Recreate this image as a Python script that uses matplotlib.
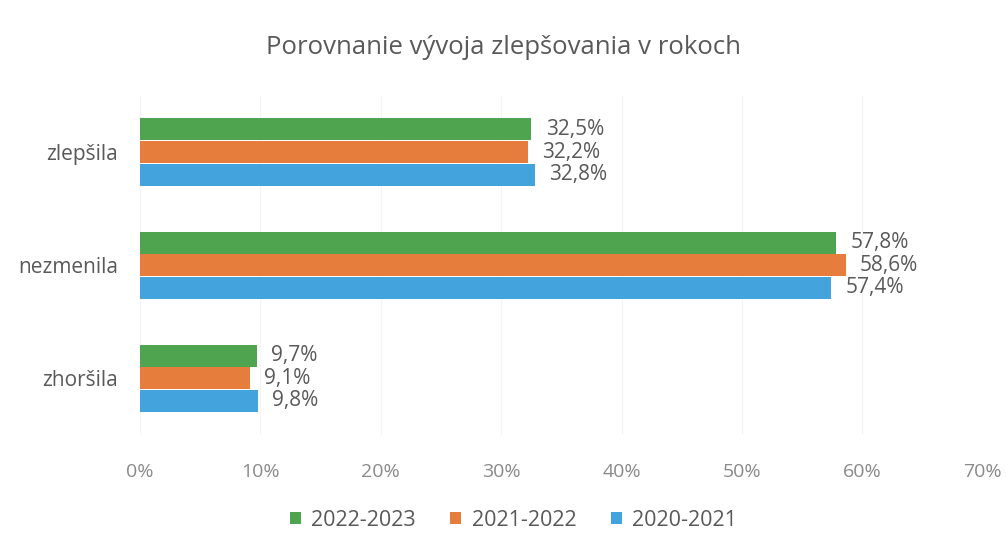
import numpy as np
import matplotlib.pyplot as plt

categories = ["zlepšila", "nezmenila", "zhoršila"]
series_names = ["2022-2023", "2021-2022", "2020-2021"]
v_2022_2023 = [32.5, 57.8, 9.7]
v_2021_2022 = [32.2, 58.6, 9.1]
v_2020_2021 = [32.8, 57.4, 9.8]
x_ticks = [0, 10, 20, 30, 40, 50, 60, 70]

colors = ["#4FA54F", "#E67D3C", "#43A3DC"]
text_col = "#595959"

plt.rcParams['font.family'] = ['Open Sans', 'DejaVu Sans']

fig = plt.figure(figsize=(10.07, 5.49), dpi=100)
ax = fig.add_axes([0.139, 0.208, 0.837, 0.618])

y = np.arange(len(categories))
h = 0.2
series = [v_2022_2023, v_2021_2022, v_2020_2021]
for i, (vals, name, c) in enumerate(zip(series, series_names, colors)):
    pos = y + (i - 1) * h
    ax.barh(pos, vals, height=h * 0.97, color=c, label=name)
    for p, v in zip(pos, vals):
        ax.text(v + 1.2, p, f"{v:.1f}%".replace(".", ","), va="center", ha="left",
                fontsize=15, color=text_col)

ax.set_xlim(0, 70)
ax.set_ylim(2.5, -0.5)
ax.set_yticks(y)
ax.set_yticklabels(categories, fontsize=15, color=text_col)
ax.set_xticks(x_ticks)
ax.set_xticklabels([f"{t}%" for t in x_ticks], fontsize=14, color="#8a8a8a")
ax.tick_params(axis="both", length=0)
ax.tick_params(axis="x", pad=20)
ax.tick_params(axis="y", pad=16)
ax.xaxis.grid(True, color="#f4f4f4", linewidth=0.8)
ax.set_axisbelow(True)
for s in ax.spines.values():
    s.set_visible(False)

fig.text(0.5, 0.914, "Porovnanie vývoja zlepšovania v rokoch", ha="center", va="center",
         fontsize=18.5, color=text_col)

leg = fig.legend(loc="center", bbox_to_anchor=(0.51, 0.052), ncol=3, frameon=False,
                 fontsize=15.5, handlelength=0.5, handleheight=0.5, handletextpad=0.5,
                 columnspacing=1.6)
for t in leg.get_texts():
    t.set_color(text_col)

plt.savefig("out.png", dpi=100)
